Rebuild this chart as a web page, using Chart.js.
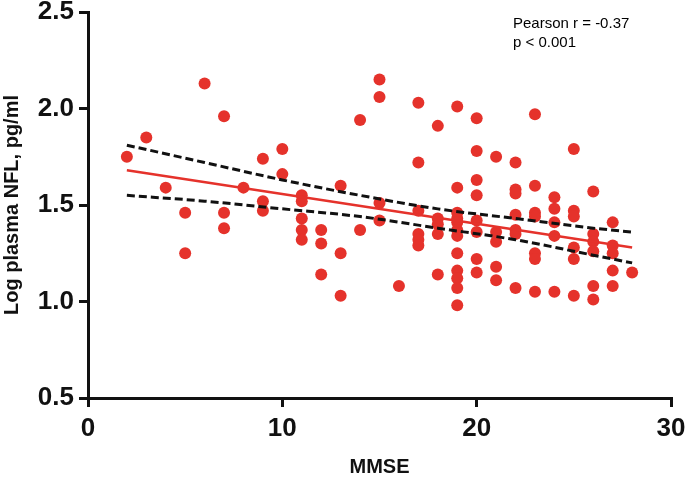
<!DOCTYPE html>
<html>
<head>
<meta charset="utf-8">
<script src="https://cdn.jsdelivr.net/npm/chart.js@4"></script>
<style>
  body { margin: 0; background: #fff; }
  #wrap { width: 685px; height: 477px; }
</style>
</head>
<body>
<div id="wrap"><canvas id="nflChart"></canvas></div>
<script>

// MMSE score of each subject (one entry per dot)
const mmse = [
    2, 3, 4, 5, 5, 6, 7, 7, 7, 8,
    9, 9, 9, 10, 10,
    11, 11, 11, 11, 11,
    12, 12, 12,
    13, 13, 13,
    14, 14,
    15, 15, 15, 15,
    16,
    17, 17, 17, 17, 17, 17,
    18, 18, 18, 18, 18,
    19, 19, 19, 19, 19, 19, 19, 19, 19, 19, 19, 19,
    20, 20, 20, 20, 20, 20, 20, 20,
    21, 21, 21, 21, 21,
    22, 22, 22, 22, 22, 22, 22,
    23, 23, 23, 23, 23, 23, 23,
    24, 24, 24, 24, 24,
    25, 25, 25, 25, 25, 25,
    26, 26, 26, 26, 26, 26,
    27, 27, 27, 27, 27,
    28
];

// log plasma NFL of each subject, same order as mmse
const logNfl = [
    1.75, 1.85, 1.59, 1.46, 1.25, 2.13, 1.96, 1.46, 1.38, 1.59,
    1.74, 1.52, 1.47, 1.79, 1.66,
    1.55, 1.52, 1.43, 1.37, 1.32,
    1.37, 1.30, 1.14,
    1.60, 1.25, 1.03,
    1.94, 1.37,
    2.15, 2.06, 1.51, 1.42,
    1.08,
    2.03, 1.72, 1.47, 1.35, 1.32, 1.29,
    1.91, 1.43, 1.40, 1.35, 1.14,
    2.01, 1.59, 1.46, 1.43, 1.41, 1.37, 1.34, 1.25, 1.16, 1.12, 1.07, 0.98,
    1.95, 1.78, 1.63, 1.55, 1.42, 1.36, 1.22, 1.15,
    1.75, 1.36, 1.31, 1.18, 1.11,
    1.72, 1.58, 1.56, 1.45, 1.37, 1.35, 1.07,
    1.97, 1.60, 1.46, 1.44, 1.25, 1.22, 1.05,
    1.54, 1.48, 1.41, 1.34, 1.05,
    1.79, 1.47, 1.44, 1.28, 1.22, 1.03,
    1.57, 1.35, 1.31, 1.26, 1.08, 1.01,
    1.41, 1.29, 1.25, 1.16, 1.08,
    1.15
];

// regression line and its 95% band
const fitX = [2, 28];
const fitY = [1.68, 1.28];
const bandX = [2, 6, 10, 14, 18, 22, 26, 28];
const bandUpper = [1.81, 1.72, 1.63, 1.55, 1.48, 1.43, 1.38, 1.36];
const bandLower = [1.55, 1.52, 1.48, 1.44, 1.38, 1.32, 1.24, 1.20];

const statLines = ["Pearson r = -0.37", "p < 0.001"];

const RED = "#e5322b";
const sans = "'Liberation Sans', Arial, sans-serif";

function pairs(xs, ys) {
    return xs.map((x, i) => ({ x: x, y: ys[i] }));
}

const statsText = {
    id: "statsText",
    afterDraw(chart) {
        const c = chart.ctx;
        const area = chart.chartArea;
        c.save();
        c.fillStyle = "#000";
        c.font = "15px " + sans;
        c.textBaseline = "alphabetic";
        statLines.forEach((t, i) => {
            c.fillText(t, area.right - 158, area.top + 16 + i * 19);
        });
        c.restore();
    }
};

new Chart(document.getElementById("nflChart"), {
    type: "scatter",
    data: {
        datasets: [
            {
                data: pairs(bandX, bandUpper),
                showLine: true,
                borderColor: "#111",
                borderWidth: 3,
                borderDash: [8, 4],
                pointRadius: 0,
                cubicInterpolationMode: "monotone",
                order: 0
            },
            {
                data: pairs(bandX, bandLower),
                showLine: true,
                borderColor: "#111",
                borderWidth: 3,
                borderDash: [8, 4],
                pointRadius: 0,
                cubicInterpolationMode: "monotone",
                order: 0
            },
            {
                data: pairs(fitX, fitY),
                showLine: true,
                borderColor: RED,
                borderWidth: 2.5,
                pointRadius: 0,
                order: 1
            },
            {
                data: pairs(mmse, logNfl),
                backgroundColor: RED,
                borderWidth: 0,
                pointRadius: 6,
                pointHoverRadius: 6,
                order: 2
            }
        ]
    },
    options: {
        responsive: true,
        maintainAspectRatio: false,
        animation: false,
        layout: {
            padding: { top: 12, right: 14, left: 0, bottom: 0 }
        },
        plugins: {
            legend: { display: false },
            tooltip: { enabled: false }
        },
        scales: {
            x: {
                type: "linear",
                min: 0,
                max: 30,
                afterFit(scale) {
                    scale.height = 79;
                    scale.paddingRight = 0;
                },
                ticks: {
                    stepSize: 10,
                    color: "#111",
                    padding: 6,
                    font: { family: sans, size: 26, weight: "bold" }
                },
                grid: {
                    drawOnChartArea: false,
                    color: "#111",
                    lineWidth: 3,
                    tickLength: 9
                },
                border: { color: "#111", width: 3 },
                title: {
                    display: true,
                    text: "MMSE",
                    color: "#111",
                    padding: { top: 4, bottom: 0 },
                    font: { family: sans, size: 20, weight: "bold", lineHeight: 1 }
                }
            },
            y: {
                min: 0.5,
                max: 2.5,
                afterFit(scale) {
                    scale.width = 88;
                    scale.paddingTop = 0;
                },
                ticks: {
                    stepSize: 0.5,
                    color: "#111",
                    padding: 5,
                    font: { family: sans, size: 26, weight: "bold" },
                    callback: v => v.toFixed(1)
                },
                grid: {
                    drawOnChartArea: false,
                    color: "#111",
                    lineWidth: 3,
                    tickLength: 9
                },
                border: { color: "#111", width: 3 },
                title: {
                    display: true,
                    text: "Log plasma NFL, pg/ml",
                    color: "#111",
                    padding: { top: 0, bottom: 4 },
                    font: { family: sans, size: 20, weight: "bold" }
                }
            }
        }
    },
    plugins: [statsText]
});
</script>
</body>
</html>
